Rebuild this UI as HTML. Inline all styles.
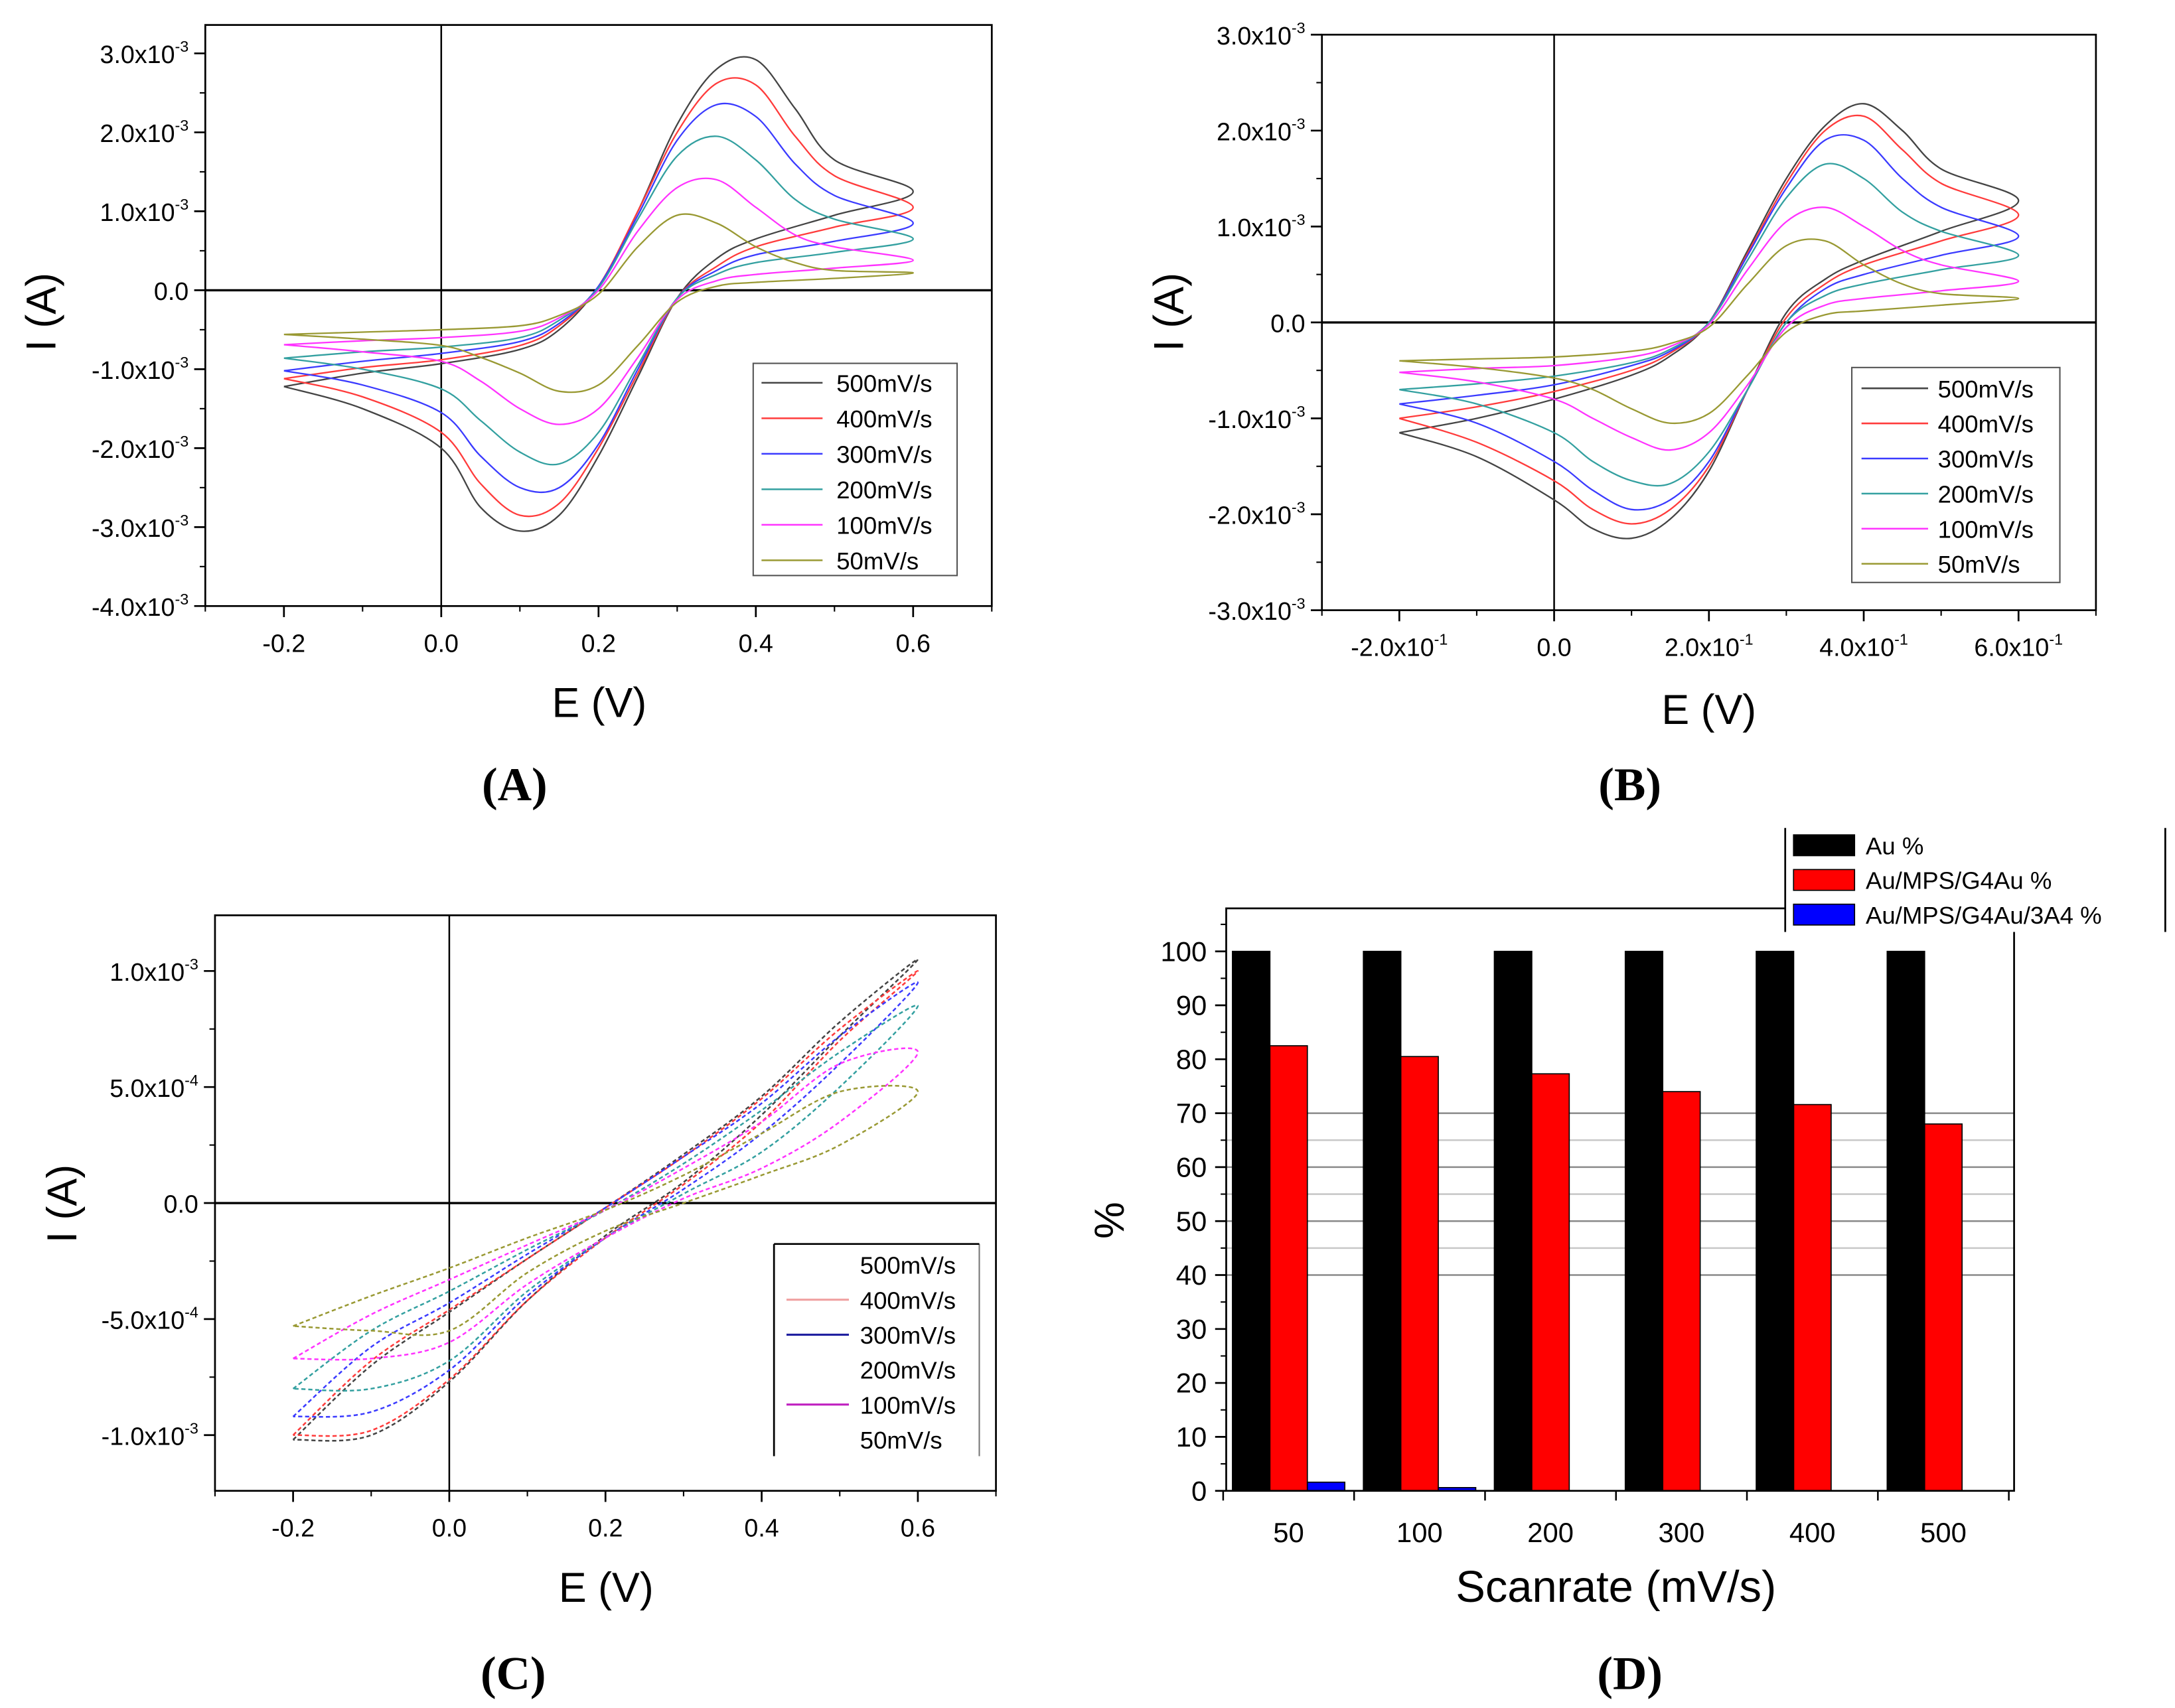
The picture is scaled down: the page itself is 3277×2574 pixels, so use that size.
<!DOCTYPE html>
<html><head><meta charset="utf-8"><style>
html,body{margin:0;padding:0;background:#fff;}
svg{display:block;}
text{font-family:"Liberation Sans",sans-serif;fill:#000;}
.pl{font-family:"Liberation Serif",serif;font-weight:bold;}
</style></head><body>
<svg id="fig" width="3277" height="2574" viewBox="0 0 1568 1231.6" preserveAspectRatio="none" xmlns="http://www.w3.org/2000/svg"></svg>
<script>
// ---------- DATA ----------
const seriesLabels = ["500mV/s","400mV/s","300mV/s","200mV/s","100mV/s","50mV/s"];
const seriesColors = ["#444444","#ff3b3b","#3b3bff","#33a0a0","#ff33ff","#999933"];
const cvFwdE = [-0.2,-0.1,0,0.1,0.15,0.2,0.25,0.3,0.35,0.4,0.45,0.5,0.6];
const cvRevE = [0.6,0.5,0.4,0.35,0.3,0.25,0.2,0.15,0.1,0.05,0,-0.1,-0.2];
const aFwd = [
 [-1.22,-1.05,-0.93,-0.75,-0.5,0.05,1.0,2.1,2.8,2.92,2.3,1.65,1.25],
 [-1.12,-0.98,-0.88,-0.7,-0.45,0.05,1.0,2.0,2.62,2.6,1.95,1.45,1.05],
 [-1.02,-0.9,-0.8,-0.65,-0.42,0.05,0.95,1.9,2.35,2.2,1.6,1.2,0.85],
 [-0.86,-0.78,-0.72,-0.6,-0.38,0.03,0.9,1.7,1.95,1.65,1.15,0.9,0.65],
 [-0.69,-0.64,-0.6,-0.52,-0.35,0.0,0.75,1.3,1.4,1.05,0.7,0.55,0.38],
 [-0.56,-0.53,-0.5,-0.45,-0.32,-0.05,0.55,0.95,0.85,0.55,0.35,0.25,0.22]];
const aRev = [
 [1.25,0.95,0.65,0.4,-0.1,-1.1,-2.1,-2.85,-3.05,-2.75,-2.0,-1.5,-1.22],
 [1.05,0.8,0.55,0.3,-0.1,-1.05,-2.0,-2.7,-2.85,-2.45,-1.8,-1.35,-1.12],
 [0.85,0.62,0.45,0.25,-0.1,-1.0,-1.95,-2.5,-2.5,-2.1,-1.55,-1.2,-1.02],
 [0.65,0.48,0.35,0.2,-0.1,-0.95,-1.8,-2.2,-2.05,-1.65,-1.25,-1.0,-0.86],
 [0.38,0.28,0.2,0.12,-0.12,-0.85,-1.5,-1.7,-1.5,-1.15,-0.9,-0.78,-0.69],
 [0.22,0.15,0.1,0.05,-0.15,-0.7,-1.2,-1.28,-1.05,-0.85,-0.7,-0.62,-0.56]];
const bFwd = [
 [-1.15,-1.0,-0.8,-0.55,-0.35,0.0,0.75,1.5,2.05,2.28,2.0,1.6,1.27],
 [-1.0,-0.88,-0.72,-0.5,-0.32,0.0,0.72,1.45,2.0,2.15,1.8,1.45,1.12],
 [-0.85,-0.76,-0.65,-0.45,-0.3,0.0,0.7,1.4,1.9,1.9,1.5,1.2,0.9],
 [-0.7,-0.64,-0.56,-0.42,-0.28,0.0,0.65,1.3,1.65,1.5,1.15,0.95,0.7],
 [-0.52,-0.48,-0.45,-0.36,-0.25,-0.02,0.55,1.05,1.2,1.0,0.75,0.6,0.43],
 [-0.4,-0.38,-0.36,-0.3,-0.22,-0.05,0.4,0.8,0.85,0.6,0.4,0.3,0.25]];
const bRev = [
 [1.27,0.95,0.65,0.45,0.1,-0.7,-1.55,-2.05,-2.25,-2.15,-1.85,-1.4,-1.15],
 [1.12,0.85,0.6,0.4,0.05,-0.7,-1.5,-1.95,-2.1,-1.95,-1.65,-1.25,-1.0],
 [0.9,0.7,0.5,0.35,0.0,-0.7,-1.45,-1.85,-1.95,-1.75,-1.45,-1.05,-0.85],
 [0.7,0.55,0.4,0.28,0.0,-0.7,-1.35,-1.68,-1.65,-1.45,-1.15,-0.85,-0.7],
 [0.43,0.33,0.25,0.18,-0.05,-0.65,-1.15,-1.33,-1.2,-1.0,-0.8,-0.62,-0.52],
 [0.25,0.18,0.12,0.08,-0.1,-0.55,-0.95,-1.05,-0.9,-0.7,-0.58,-0.47,-0.4]];
const cFwdE = [-0.2,-0.1,0,0.1,0.2,0.3,0.4,0.5,0.6];
const cRevE = [0.6,0.5,0.4,0.3,0.2,0.1,0,-0.1,-0.2];
const cFwd = [
 [-1.02,-0.7,-0.47,-0.24,-0.02,0.21,0.46,0.78,1.05],
 [-1.0,-0.68,-0.46,-0.24,-0.02,0.2,0.45,0.75,1.0],
 [-0.92,-0.62,-0.43,-0.22,-0.02,0.2,0.43,0.72,0.95],
 [-0.8,-0.55,-0.38,-0.2,-0.03,0.17,0.4,0.65,0.85],
 [-0.67,-0.48,-0.33,-0.18,-0.03,0.15,0.35,0.6,0.65],
 [-0.53,-0.4,-0.28,-0.15,-0.03,0.12,0.3,0.48,0.48]];
const cRev = [
 [1.05,0.72,0.38,0.09,-0.14,-0.42,-0.77,-1.0,-1.02],
 [1.0,0.7,0.35,0.08,-0.15,-0.42,-0.76,-0.98,-1.0],
 [0.95,0.6,0.3,0.06,-0.15,-0.4,-0.72,-0.9,-0.92],
 [0.85,0.5,0.22,0.04,-0.15,-0.38,-0.68,-0.8,-0.8],
 [0.65,0.35,0.15,0.02,-0.15,-0.35,-0.6,-0.67,-0.67],
 [0.47,0.25,0.12,0.0,-0.12,-0.3,-0.55,-0.55,-0.53]];
const dCategories = ["50","100","200","300","400","500"];
const dAu = [100,100,100,100,100,100];
const dMps = [82.5,80.5,77.3,74,71.6,68];
const dA4 = [1.6,0.6,0,0,0,0];
const dLegend = ["Au %","Au/MPS/G4Au %","Au/MPS/G4Au/3A4 %"];
const dColors = ["#000000","#ff0000","#0000ff"];

// ---------- HELPERS ----------
const NS="http://www.w3.org/2000/svg";
const svg=document.getElementById('fig');
function mk(tag,attrs,parent){const e=document.createElementNS(NS,tag);for(const k in attrs)e.setAttribute(k,attrs[k]);(parent||svg).appendChild(e);return e;}
function txt(s,x,y,size,anchor,parent){const t=mk('text',{x:x,y:y,'font-size':size,'text-anchor':anchor||'middle'},parent);t.textContent=s;return t;}
function sci(mant,exp,x,y,size,anchor,parent){const t=mk('text',{x:x,y:y,'font-size':size,'text-anchor':anchor||'end'},parent);t.appendChild(document.createTextNode(mant+'x10'));const s=document.createElementNS(NS,'tspan');s.setAttribute('dy',-size*0.45);s.setAttribute('font-size',size*0.62);s.textContent=exp;t.appendChild(s);return t;}
function smooth(pts){let d='M'+pts[0][0].toFixed(2)+','+pts[0][1].toFixed(2);for(let i=0;i<pts.length-1;i++){const p0=pts[i-1]||pts[i],p1=pts[i],p2=pts[i+1],p3=pts[i+2]||p2;const c1=[p1[0]+(p2[0]-p0[0])/6,p1[1]+(p2[1]-p0[1])/6],c2=[p2[0]-(p3[0]-p1[0])/6,p2[1]-(p3[1]-p1[1])/6];d+='C'+c1[0].toFixed(2)+','+c1[1].toFixed(2)+' '+c2[0].toFixed(2)+','+c2[1].toFixed(2)+' '+p2[0].toFixed(2)+','+p2[1].toFixed(2);}return d;}

function cvPanel(cfg){
  const g=mk('g',{});
  
  
  const X=v=>cfg.x0+(v-cfg.xmin)/(cfg.xmax-cfg.xmin)*(cfg.x1-cfg.x0);
  const Y=v=>cfg.y0+(cfg.ymax-v)/(cfg.ymax-cfg.ymin)*(cfg.y1-cfg.y0);
  // frame
  const fr=mk('rect',{x:cfg.x0,y:cfg.y0,width:cfg.x1-cfg.x0,height:cfg.y1-cfg.y0,fill:'none',stroke:'#000','stroke-width':1.3},g);
  
  // zero lines
  const zx=mk('line',{x1:X(0),x2:X(0),y1:cfg.y0,y2:cfg.y1,stroke:'#000','stroke-width':1.2},g);
  
  const zy=mk('line',{x1:cfg.x0,x2:cfg.x1,y1:Y(0),y2:Y(0),stroke:'#000','stroke-width':1.6},g);
  
  // y ticks
  cfg.yTicks.forEach((v,i)=>{
    mk('line',{x1:cfg.x0-8,x2:cfg.x0,y1:Y(v),y2:Y(v),stroke:'#000','stroke-width':1.3},g);
    const lab=cfg.yLabels[i];
    let t; if(lab[1]) t=sci(lab[0],lab[1],cfg.x0-12,Y(v)+7,18,'end',g); else t=txt(lab[0],cfg.x0-12,Y(v)+7,18,'end',g);
    
  });
  cfg.yMinor.forEach(v=>mk('line',{x1:cfg.x0-4,x2:cfg.x0,y1:Y(v),y2:Y(v),stroke:'#000','stroke-width':1},g));
  cfg.xTicks.forEach((v,i)=>{
    mk('line',{x1:X(v),x2:X(v),y1:cfg.y1,y2:cfg.y1+8,stroke:'#000','stroke-width':1.3},g);
    const lab=cfg.xLabels[i];
    let t; if(lab[1]) t=sci(lab[0],lab[1],X(v),cfg.y1+33,18,'middle',g); else t=txt(lab[0],X(v),cfg.y1+33,18,'middle',g);
    
  });
  cfg.xMinor.forEach(v=>mk('line',{x1:X(v),x2:X(v),y1:cfg.y1,y2:cfg.y1+4,stroke:'#000','stroke-width':1},g));
  // series
  for(let s=0;s<6;s++){
    const pts=cfg.fE.map((e,i)=>[X(e),Y(cfg.f[s][i])]).concat(cfg.rE.map((e,i)=>[X(e),Y(cfg.r[s][i])]).slice(1));
    const p=mk('path',{d:smooth(pts),fill:'none',stroke:seriesColors[s],'stroke-width':cfg.dash?1.2:1.1,'stroke-dasharray':cfg.dash||'none'},g);
    
    
  }
  // legend
  const L=cfg.leg;
  const lg=mk('g',{},g);
  
  if(L.full) mk('rect',{x:L.x0,y:L.y0,width:L.x1-L.x0,height:L.y1-L.y0,fill:'#fff',stroke:'#555','stroke-width':1},lg);
  else {mk('rect',{x:L.x0,y:L.y0,width:L.x1-L.x0,height:L.y1-L.y0,fill:'#fff',stroke:'none'},lg);
        mk('line',{x1:L.x0,x2:L.x0,y1:L.y0,y2:L.y1,stroke:'#000','stroke-width':1.3},lg);
        mk('line',{x1:L.x1,x2:L.x1,y1:L.y0,y2:L.y1,stroke:'#777','stroke-width':1},lg);
        mk('line',{x1:L.x0,x2:L.x1,y1:L.y0,y2:L.y0,stroke:'#000','stroke-width':1.3},lg);}
  seriesLabels.forEach((s,i)=>{
    const yy=L.r0+i*L.dr;
    if(!L.show||L.show[i]) mk('line',{x1:L.lx0,x2:L.lx1,y1:yy,y2:yy,stroke:L.colors?L.colors[i]:seriesColors[i],'stroke-width':L.lw||1.2},lg);
    const t=txt(s,L.tx,yy+6.5,17.5,'start',lg);
    
  });
  // titles
  const yt=txt('I (A)',0,0,30,'middle',g);
  yt.setAttribute('transform','translate('+cfg.ytx+','+cfg.yty+') rotate(-90)');
  
  const xt=txt('E (V)',cfg.xtx,cfg.xty,30,'middle',g);
  
  const pl=txt(cfg.label,cfg.plx,cfg.ply,34,'middle',g);
  pl.setAttribute('class','pl');
  
}

function range(a,b,s){const r=[];for(let v=a;v<=b+1e-9;v+=s)r.push(+v.toFixed(6));return r;}

// Panel A
cvPanel({name:'panel-a',label:'(A)',plx:371,ply:577,x0:148,x1:715,y0:18,y1:437,xmin:-0.3,xmax:0.7,ymin:-4,ymax:3.36,
  yTicks:[3,2,1,0,-1,-2,-3,-4],yLabels:[['3.0','-3'],['2.0','-3'],['1.0','-3'],['0.0'],['-1.0','-3'],['-2.0','-3'],['-3.0','-3'],['-4.0','-3']],
  yMinor:range(-3.5,2.5,1),xTicks:[-0.2,0,0.2,0.4,0.6],xLabels:[['-0.2'],['0.0'],['0.2'],['0.4'],['0.6']],xMinor:[-0.3,-0.1,0.1,0.3,0.5,0.7],
  fE:cvFwdE,rE:cvRevE,f:aFwd,r:aRev,
  leg:{full:true,x0:543,x1:690,y0:262,y1:415,r0:276,dr:25.6,lx0:549,lx1:593,tx:603},
  ytx:40,yty:225,xtx:432,xty:517});
// Panel B
cvPanel({name:'panel-b',label:'(B)',plx:1175,ply:577,x0:953,x1:1511,y0:25,y1:440,xmin:-0.3,xmax:0.7,ymin:-3,ymax:3,
  yTicks:[3,2,1,0,-1,-2,-3],yLabels:[['3.0','-3'],['2.0','-3'],['1.0','-3'],['0.0'],['-1.0','-3'],['-2.0','-3'],['-3.0','-3']],
  yMinor:range(-2.5,2.5,1),xTicks:[-0.2,0,0.2,0.4,0.6],xLabels:[['-2.0','-1'],['0.0'],['2.0','-1'],['4.0','-1'],['6.0','-1']],xMinor:[-0.3,-0.1,0.1,0.3,0.5,0.7],
  fE:cvFwdE,rE:cvRevE,f:bFwd,r:bRev,
  leg:{full:true,x0:1335,x1:1485,y0:265,y1:420,r0:280,dr:25.3,lx0:1342,lx1:1390,tx:1397},
  ytx:853,yty:225,xtx:1232,xty:522});
// Panel C
cvPanel({name:'panel-c',label:'(C)',plx:370,ply:1218,x0:155,x1:718,y0:660,y1:1075,xmin:-0.3,xmax:0.7,ymin:-1.24,ymax:1.24,
  yTicks:[1,0.5,0,-0.5,-1],yLabels:[['1.0','-3'],['5.0','-4'],['0.0'],['-5.0','-4'],['-1.0','-3']],
  yMinor:[1.25,0.75,0.25,-0.25,-0.75,-1.25].filter(v=>Math.abs(v)<=1.24),xTicks:[-0.2,0,0.2,0.4,0.6],xLabels:[['-0.2'],['0.0'],['0.2'],['0.4'],['0.6']],xMinor:[-0.3,-0.1,0.1,0.3,0.5,0.7],
  fE:cFwdE,rE:cRevE,f:cFwd,r:cRev,dash:'3 2',
  leg:{full:false,x0:558,x1:706,y0:897,y1:1050,r0:912,dr:25.2,lx0:567,lx1:612,tx:620,show:[false,true,true,false,true,false],colors:['#444','#f0a0a0','#2020a0','#33a0a0','#c020c0','#999933'],lw:1.5},
  ytx:55,yty:868,xtx:437,xty:1155});

// Panel D
(function(){
  const g=mk('g',{});
  
  
  const x0=884,x1=1452,y0=655,y1=1075;
  const Y=v=>y1-v/100*(y1-686);
  const step=94.4, c0=929, bw=27;
  const CX=i=>c0+i*step;
  [40,45,50,55,60,65,70].forEach(v=>{
    const l=mk('line',{x1:x0,x2:x1,y1:Y(v),y2:Y(v),stroke:v%10?'#c8c8c8':'#8a8a8a','stroke-width':1.2},g);
    
  });
  const sets=[dAu,dMps,dA4];
  dCategories.forEach((c,i)=>{
    sets.forEach((arr,k)=>{
      const v=arr[i]; if(v<=0) return;
      const b=mk('rect',{x:CX(i)-1.5*bw+k*bw,y:Y(v),width:bw,height:Y(0)-Y(v),fill:dColors[k],stroke:'#000','stroke-width':0.8},g);
      
      
    });
    const t=txt(c,CX(i),y1+37,20,'middle',g);
    
  });
  const fr=mk('rect',{x:x0,y:y0,width:x1-x0,height:y1-y0,fill:'none',stroke:'#000','stroke-width':1.3},g);
  
  for(let v=0;v<=100;v+=10){
    mk('line',{x1:x0-8,x2:x0,y1:Y(v),y2:Y(v),stroke:'#000','stroke-width':1.3},g);
    const t=txt(String(v),x0-14,Y(v)+7,20,'end',g);
    
  }
  for(let v=5;v<=105;v+=10) mk('line',{x1:x0-4,x2:x0,y1:Y(v),y2:Y(v),stroke:'#000','stroke-width':1},g);
  for(let i=0;i<=6;i++){const xx=c0-step/2+i*step;mk('line',{x1:xx,x2:xx,y1:y1,y2:y1+7,stroke:'#000','stroke-width':1.2},g);}
  const yt=txt('%',0,0,30,'middle',g);
  yt.setAttribute('transform','translate(810,880) rotate(-90)');
  
  const xt=txt('Scanrate (mV/s)',1165,1155,32,'middle',g);
  
  const pl=txt('(D)',1175,1218,34,'middle',g);
  pl.setAttribute('class','pl');
  
  const lg=mk('g',{},g);
  
  mk('rect',{x:1287,y:597,width:274,height:75,fill:'#fff',stroke:'none'},lg);
  mk('line',{x1:1287,x2:1287,y1:597,y2:672,stroke:'#000','stroke-width':1.3},lg);
  mk('line',{x1:1561,x2:1561,y1:597,y2:672,stroke:'#000','stroke-width':1.3},lg);
  dLegend.forEach((s,i)=>{
    const yy=602+i*25;
    mk('rect',{x:1293,y:yy,width:44,height:15,fill:dColors[i],stroke:'#000','stroke-width':0.8},lg);
    const t=txt(s,1345,yy+14,17.5,'start',lg);
    
  });
})();
</script>
</body></html>
